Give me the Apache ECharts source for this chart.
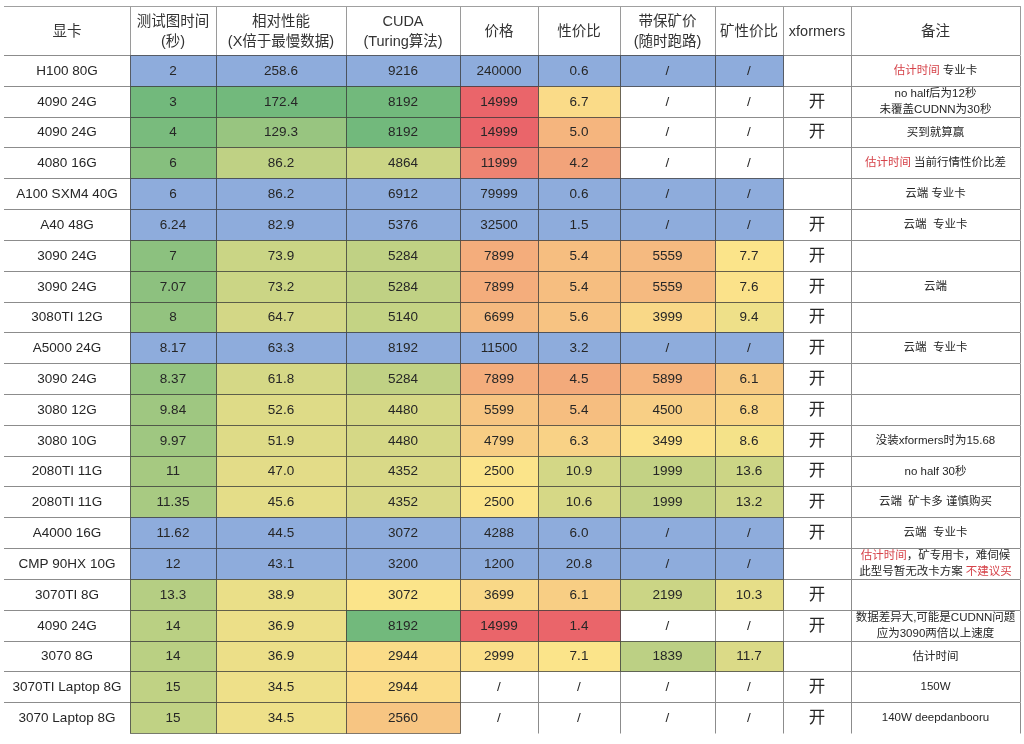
<!DOCTYPE html>
<html><head><meta charset="utf-8">
<script src="https://cdn.jsdelivr.net/npm/echarts@6/dist/echarts.min.js"></script>
<style>html,body{margin:0;padding:0;background:#fff}#main{width:1024px;height:744px}</style>
</head><body><div id="main"></div>
<script>
// ---------- data ----------
const headers = ['显卡','测试图时间\n(秒)','相对性能\n(X倍于最慢数据)','CUDA\n(Turing算法)','价格','性价比','带保矿价\n(随时跑路)','矿性价比','xformers','备注'];
const cards = ['H100 80G','4090 24G','4090 24G','4080 16G','A100 SXM4 40G','A40 48G','3090 24G','3090 24G','3080TI 12G','A5000 24G','3090 24G','3080 12G','3080 10G','2080TI 11G','2080TI 11G','A4000 16G','CMP 90HX 10G','3070TI 8G','4090 24G','3070 8G','3070TI Laptop 8G','3070 Laptop 8G'];
const times = [2,3,4,6,6,6.24,7,7.07,8,8.17,8.37,9.84,9.97,11,11.35,11.62,12,13.3,14,14,15,15];
const perf = [258.6,172.4,129.3,86.2,86.2,82.9,73.9,73.2,64.7,63.3,61.8,52.6,51.9,47.0,45.6,44.5,43.1,38.9,36.9,36.9,34.5,34.5];
const cuda = [9216,8192,8192,4864,6912,5376,5284,5284,5140,8192,5284,4480,4480,4352,4352,3072,3200,3072,8192,2944,2944,2560];
const price = [240000,14999,14999,11999,79999,32500,7899,7899,6699,11500,7899,5599,4799,2500,2500,4288,1200,3699,14999,2999,null,null];
const ratio = [0.6,6.7,5.0,4.2,0.6,1.5,5.4,5.4,5.6,3.2,4.5,5.4,6.3,10.9,10.6,6.0,20.8,6.1,1.4,7.1,null,null];
const minePrice = [null,null,null,null,null,null,5559,5559,3999,null,5899,4500,3499,1999,1999,null,null,2199,null,1839,null,null];
const mineRatio = [null,null,null,null,null,null,7.7,7.6,9.4,null,6.1,6.8,8.6,13.6,13.2,null,null,10.3,null,11.7,null,null];
const xformers = ['','开','开','','','开','开','开','开','开','开','开','开','开','开','开','','开','开','','开','开'];
const notes = ['估计时间 专业卡','no half后为12秒\n未覆盖CUDNN为30秒','买到就算赢','估计时间 当前行情性价比差','云端 专业卡','云端  专业卡','','云端','','云端  专业卡','','','没装xformers时为15.68','no half 30秒','云端  矿卡多 谨慎购买','云端  专业卡','估计时间，矿专用卡，难伺候\n此型号暂无改卡方案 不建议买','','数据差异大,可能是CUDNN问题\n应为3090两倍以上速度','估计时间','150W','140W deepdanbooru'];
const proRows = [0,4,5,9,15,16];
const noteHighlights = {0:['估计时间'],3:['估计时间'],16:['估计时间','不建议买']};

// ---------- layout / style ----------
const colEdges = [0,126,212,342,456,534,616,711,779,847,1016];
const FONT = "'Liberation Sans','Noto Sans CJK SC',sans-serif";
const G=[114,185,124], Y=[251,228,138], R=[234,101,106];
const BLUE = '#8eacdc';
const scales = {
  1: [[3,G],[24,Y],[60,R]],
  2: [[0,R],[20,Y],[172,G]],
  3: [[1000,R],[3072,Y],[8192,G]],
  4: [[0,G],[2500,Y],[15000,R]],
  5: [[1.4,R],[7.1,Y],[20,G]],
  6: [[0,G],[3400,Y],[10000,R]],
  7: [[0,R],[7.7,Y],[25,G]]
};
function rgb(c){return 'rgb('+c.map(Math.round).join(',')+')';}
function scaleColor(stops, v){
  if (v <= stops[0][0]) return rgb(stops[0][1]);
  for (let i=1;i<stops.length;i++){
    if (v <= stops[i][0]){
      const t=(v-stops[i-1][0])/(stops[i][0]-stops[i-1][0]);
      const a=stops[i-1][1], b=stops[i][1];
      return rgb([0,1,2].map(k=>a[k]+(b[k]-a[k])*t));
    }
  }
  return rgb(stops[stops.length-1][1]);
}
const columns = [cards,times,perf,cuda,price,ratio,minePrice,mineRatio,xformers,notes];
const fmt = [s=>s, v=>String(v), v=>v.toFixed(1), v=>String(v), v=>String(v), v=>v.toFixed(1), v=>String(v), v=>v.toFixed(1), s=>s, s=>s];

const bodyData = [];
for (let r=0;r<cards.length;r++) for (let c=0;c<10;c++) bodyData.push([colEdges[c], r, c]);
const headData = headers.map((h,c)=>[colEdges[c],0,c]);
const lineData = cards.map((_,r)=>[0,r]);

function cellBox(api, x0, r, c){
  const p0 = api.coord([x0, r]);
  const p1 = api.coord([colEdges[c+1], r]);
  const h = api.size([0,1])[1];
  return {left:Math.round(p0[0]), right:Math.round(p1[0]), top:Math.round(p0[1]-h/2), bottom:Math.round(p0[1]+h/2)};
}

function bodyRender(params, api){
  const x0=api.value(0), r=api.value(1), c=api.value(2);
  const b = cellBox(api,x0,r,c);
  const children=[];
  const raw = columns[c][r];
  let fill=null;
  if (c>=1 && c<=7){
    if (proRows.indexOf(r)>=0) fill=BLUE;
    else if (raw!==null && raw!==undefined) fill=scaleColor(scales[c], raw);
  }
  if (fill){
    children.push({type:'rect', shape:{x:b.left+0.5,y:b.top+0.5,width:b.right-b.left,height:b.bottom-b.top},
      style:{fill:fill, stroke:'rgba(50,50,50,0.6)', lineWidth:1}});
  }
  let text = (raw===null||raw===undefined) ? '/' : fmt[c](raw);
  let fontSize = 13.5, rich = null, lineHeight = 16;
  if (c===8) fontSize = 16.5;
  if (c===9){
    fontSize = 11.5; lineHeight = 16;
    const hl = noteHighlights[r];
    if (hl){ hl.forEach(p=>{ text = text.split(p).join('{r|'+p+'}'); });
      rich = {r:{fill:'#d6434a', fontSize:11.5, fontFamily:FONT, lineHeight:16}}; }
  }
  if (c===0) fontSize = 13.5;
  if (text){
    const st = {text:text, x:(b.left+b.right)/2, y:(b.top+b.bottom)/2+0.5, align:'center', verticalAlign:'middle',
      fontSize:fontSize, fontFamily:FONT, fill:'#262626', lineHeight:lineHeight};
    if (rich) st.rich = rich;
    children.push({type:'text', style:st});
  }
  return {type:'group', children:children};
}

function lineRender(params, api){
  const r = api.value(1);
  const children=[];
  const pL = api.coord([0,r]), pR = api.coord([1016,r]);
  const h = api.size([0,1])[1];
  const top = Math.round(pL[1]-h/2)+0.5, bottom = Math.round(pL[1]+h/2)+0.5;
  children.push({type:'line', shape:{x1:pL[0],y1:top,x2:pR[0],y2:top}, style:{stroke:'#8c8c8c', lineWidth:1}});
  for (let c=1;c<colEdges.length;c++){
    const x = Math.round(api.coord([colEdges[c],r])[0])+0.5;
    children.push({type:'line', shape:{x1:x,y1:top,x2:x,y2:bottom}, style:{stroke:'#8c8c8c', lineWidth:1}});
  }
  return {type:'group', children:children};
}

function headRender(params, api){
  const x0=api.value(0), r=api.value(1), c=api.value(2);
  const b = cellBox(api,x0,r,c);
  const children=[];
  if (c>0) children.push({type:'line', shape:{x1:b.left+0.5,y1:b.top,x2:b.left+0.5,y2:b.bottom}, style:{stroke:'#9a9a9a',lineWidth:1}});
  if (c===9) children.push({type:'line', shape:{x1:b.right+0.5,y1:b.top,x2:b.right+0.5,y2:b.bottom}, style:{stroke:'#9a9a9a',lineWidth:1}});
  children.push({type:'line', shape:{x1:b.left,y1:b.top+0.5,x2:b.right+1,y2:b.top+0.5}, style:{stroke:'#a0a0a0',lineWidth:1}});
  children.push({type:'text', style:{text:headers[c], x:(b.left+b.right)/2, y:(b.top+b.bottom)/2+1, align:'center', verticalAlign:'middle',
    fontSize:14.5, fontFamily:FONT, fill:'#333', lineHeight:20}});
  return {type:'group', children:children};
}

const chart = echarts.init(document.getElementById('main'));
chart.setOption({
  backgroundColor:'#fff',
  animation:false,
  grid:[
    {left:4, width:1016, top:55, height:678},
    {left:4, width:1016, top:6, height:49}
  ],
  xAxis:[
    {type:'value', gridIndex:0, min:0, max:1016, show:false},
    {type:'value', gridIndex:1, min:0, max:1016, show:false}
  ],
  yAxis:[
    {type:'category', gridIndex:0, data:cards, inverse:true, show:false},
    {type:'category', gridIndex:1, data:['header'], show:false}
  ],
  series:[
    {type:'custom', xAxisIndex:0, yAxisIndex:0, data:lineData, renderItem:lineRender, z:1, silent:true},
    {type:'custom', xAxisIndex:0, yAxisIndex:0, data:bodyData, renderItem:bodyRender, z:2, silent:true},
    {type:'custom', xAxisIndex:1, yAxisIndex:1, data:headData, renderItem:headRender, z:2, silent:true}
  ]
});
</script></body></html>
